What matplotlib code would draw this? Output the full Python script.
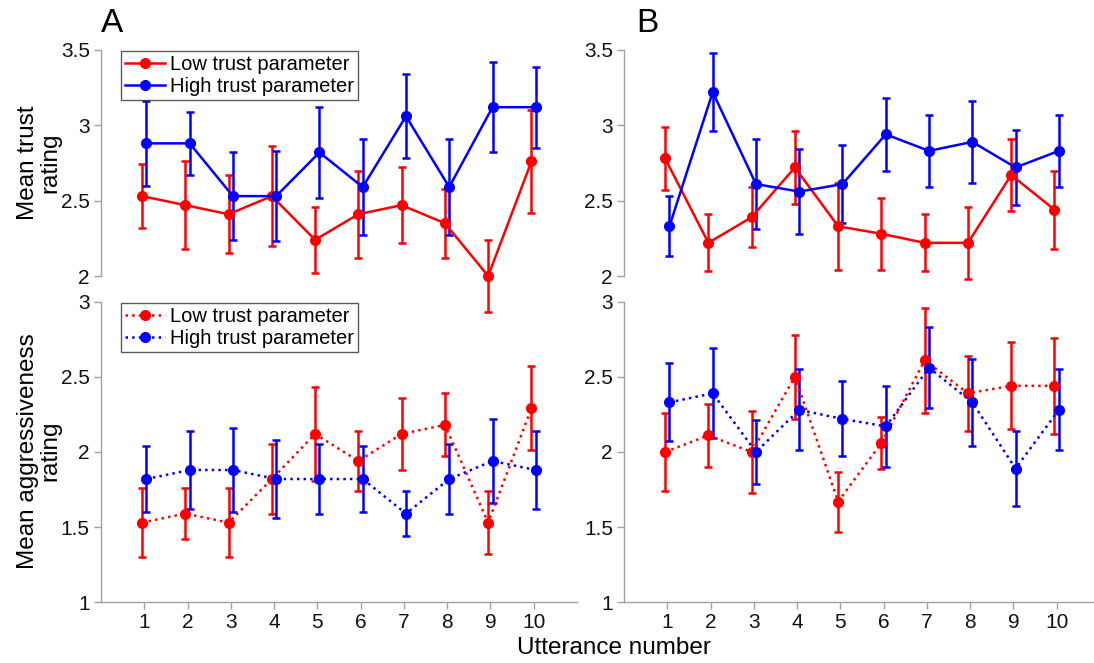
import numpy as np
import matplotlib
matplotlib.use('Agg')
import matplotlib.pyplot as plt
from matplotlib.lines import Line2D

plt.rcParams['font.family'] = ['Liberation Sans', 'DejaVu Sans']

utterances = np.arange(1, 11)

# panel A - trust
trust_low_A = [2.53, 2.47, 2.41, 2.53, 2.24, 2.41, 2.47, 2.35, 2.00, 2.76]
trust_low_A_err = [0.21, 0.29, 0.26, 0.33, 0.22, 0.29, 0.25, 0.23, 0.24, 0.34]
trust_high_A = [2.88, 2.88, 2.53, 2.53, 2.82, 2.59, 3.06, 2.59, 3.12, 3.12]
trust_high_A_err = [0.28, 0.21, 0.29, 0.30, 0.30, 0.32, 0.28, 0.32, 0.30, 0.27]

# panel B - trust
trust_low_B = [2.78, 2.22, 2.39, 2.72, 2.33, 2.28, 2.22, 2.22, 2.67, 2.44]
trust_low_B_err = [0.21, 0.19, 0.20, 0.24, 0.29, 0.24, 0.19, 0.24, 0.24, 0.26]
trust_high_B = [2.33, 3.22, 2.61, 2.56, 2.61, 2.94, 2.83, 2.89, 2.72, 2.83]
trust_high_B_err = [0.20, 0.26, 0.30, 0.28, 0.26, 0.24, 0.24, 0.27, 0.25, 0.24]

# panel A - aggressiveness
aggr_low_A = [1.53, 1.59, 1.53, 1.82, 2.12, 1.94, 2.12, 2.18, 1.53, 2.29]
aggr_low_A_err = [0.23, 0.17, 0.23, 0.23, 0.31, 0.20, 0.24, 0.21, 0.21, 0.28]
aggr_high_A = [1.82, 1.88, 1.88, 1.82, 1.82, 1.82, 1.59, 1.82, 1.94, 1.88]
aggr_high_A_err = [0.22, 0.26, 0.28, 0.26, 0.23, 0.22, 0.15, 0.23, 0.28, 0.26]

# panel B - aggressiveness
aggr_low_B = [2.00, 2.11, 2.00, 2.50, 1.67, 2.06, 2.61, 2.39, 2.44, 2.44]
aggr_low_B_err = [0.26, 0.21, 0.27, 0.28, 0.20, 0.17, 0.35, 0.25, 0.29, 0.32]
aggr_high_B = [2.33, 2.39, 2.00, 2.28, 2.22, 2.17, 2.56, 2.33, 1.89, 2.28]
aggr_high_B_err = [0.26, 0.30, 0.21, 0.27, 0.25, 0.27, 0.27, 0.29, 0.25, 0.27]

labels = ['Low trust parameter', 'High trust parameter']

RED = '#ff0000'
BLUE = '#0000ff'
SPINE = '#a0a0a0'
offset = 0.05

fig = plt.figure(figsize=(10.94, 6.63), dpi=100)

ax_tA = fig.add_axes([0.0923, 0.5837, 0.435, 0.341])
ax_tB = fig.add_axes([0.5704, 0.5837, 0.435, 0.341])
ax_aA = fig.add_axes([0.0923, 0.0916, 0.435, 0.4534])
ax_aB = fig.add_axes([0.5704, 0.0916, 0.435, 0.4534])


def draw(ax, low, low_err, high, high_err, ls):
    kw = dict(marker='o', markersize=7, lw=1.8, capsize=3, capthick=1.8,
              elinewidth=1.8, clip_on=False)
    ax.errorbar(utterances - offset, low, yerr=low_err, color=RED, ls=ls, **kw)
    ax.errorbar(utterances + offset, high, yerr=high_err, color=BLUE, ls=ls, **kw)
    ax.set_xlim(0, 11)
    for s in ['top', 'right']:
        ax.spines[s].set_visible(False)
    for s in ['left', 'bottom']:
        ax.spines[s].set_color(SPINE)
        ax.spines[s].set_linewidth(1.0)
    ax.tick_params(colors=SPINE, labelcolor='#111111', labelsize=15,
                   length=5, width=1.0, pad=3)
    ax.set_xticks(utterances)


def fmt(v):
    return '%g' % v


for ax, d in [(ax_tA, (trust_low_A, trust_low_A_err, trust_high_A, trust_high_A_err)),
              (ax_tB, (trust_low_B, trust_low_B_err, trust_high_B, trust_high_B_err))]:
    draw(ax, *d, '-')
    ax.set_ylim(2, 3.5)
    ax.set_yticks([2, 2.5, 3, 3.5])
    ax.set_yticklabels([fmt(v) for v in [2, 2.5, 3, 3.5]])
    ax.spines['bottom'].set_visible(False)
    ax.tick_params(axis='x', bottom=False, labelbottom=False)

for ax, d in [(ax_aA, (aggr_low_A, aggr_low_A_err, aggr_high_A, aggr_high_A_err)),
              (ax_aB, (aggr_low_B, aggr_low_B_err, aggr_high_B, aggr_high_B_err))]:
    draw(ax, *d, ':')
    ax.set_ylim(1, 3)
    ax.set_yticks([1, 1.5, 2, 2.5, 3])
    ax.set_yticklabels([fmt(v) for v in [1, 1.5, 2, 2.5, 3]])

for ax, ls in [(ax_tA, '-'), (ax_aA, ':')]:
    handles = [Line2D([], [], color=RED, ls=ls, lw=1.8, marker='o', markersize=7),
               Line2D([], [], color=BLUE, ls=ls, lw=1.8, marker='o', markersize=7)]
    leg = ax.legend(handles, labels, loc='upper left', bbox_to_anchor=(0.04, 1.0),
                    fontsize=14.5, frameon=True, fancybox=False, edgecolor='#333333',
                    handlelength=2.0, borderpad=0.2, labelspacing=0.15,
                    handletextpad=0.25, borderaxespad=0.05)
    leg.get_frame().set_linewidth(1.0)

ax_tA.set_zorder(5)

fig.text(0.036, 0.754, 'Mean trust\nrating', rotation=90, ha='center', va='center',
         fontsize=17.5, linespacing=1.0)
fig.text(0.036, 0.320, 'Mean aggressiveness\nrating', rotation=90, ha='center',
         va='center', fontsize=17.5, linespacing=1.0)
fig.text(0.561, 0.022, 'Utterance number', ha='center', va='center', fontsize=17.5)
fig.text(0.092, 0.965, 'A', ha='left', va='center', fontsize=24)
fig.text(0.582, 0.965, 'B', ha='left', va='center', fontsize=24)

fig.savefig('out.png', dpi=100)
